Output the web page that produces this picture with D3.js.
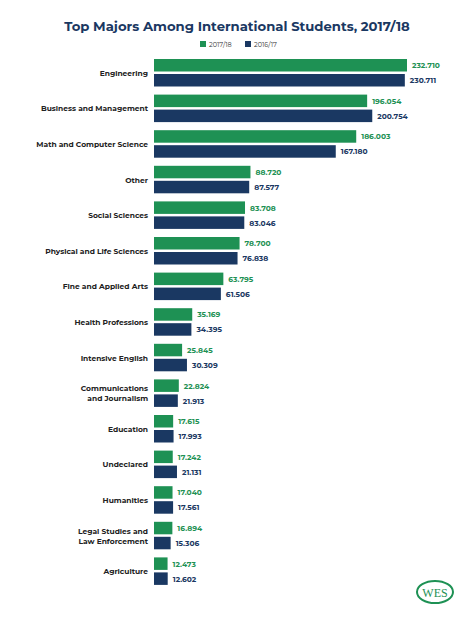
<!DOCTYPE html><html><head><meta charset="utf-8"><script src="https://cdn.jsdelivr.net/npm/d3@7"></script>
<style>body{margin:0;background:#fff}text{font-family:Montserrat,"Open Sans",sans-serif}</style></head><body><svg id="c" width="474" height="620"></svg>
<script>
const categories=["Engineering","Business and Management","Math and Computer Science","Other","Social Sciences","Physical and Life Sciences","Fine and Applied Arts","Health Professions","Intensive English","Communications\nand Journalism","Education","Undeclared","Humanities","Legal Studies and\nLaw Enforcement","Agriculture"];
const v1718=[232710,196054,186003,88720,83708,78700,63795,35169,25845,22824,17615,17242,17040,16894,12473];
const v1617=[230711,200754,167180,87577,83046,76838,61506,34395,30309,21913,17993,21131,17561,15306,12602];
const series=["2017/18","2016/17"];
const colors=["#1e9154","#1a3862"];
const svg=d3.select("#c");
svg.append("text").attr("x",237).attr("y",31).attr("text-anchor","middle").attr("font-size",13.2).attr("font-weight",700).attr("fill","#1a3862").text("Top Majors Among International Students, 2017/18");
const lg=svg.append("g");
[[200,0],[245,1]].forEach(([x,i])=>{lg.append("rect").attr("x",x).attr("y",41).attr("width",6).attr("height",6).attr("fill",colors[i]);lg.append("text").attr("x",x+9).attr("y",47).attr("font-size",6.5).attr("fill","#333").text(series[i]);});
const x=d3.scaleLinear().domain([0,232710]).range([154,407]);
const y=d3.scaleBand().domain(d3.range(categories.length)).range([55,589]);
const bh=12.5;
categories.forEach((c,i)=>{
  const g=svg.append("g");const y0=y(i)+4;
  [v1718[i],v1617[i]].forEach((v,k)=>{
    const yy=y0+k*(bh+2.5);
    g.append("rect").attr("x",x(0)).attr("y",yy).attr("width",x(v)-x(0)).attr("height",bh).attr("fill",colors[k]);
    g.append("text").attr("x",x(v)+5).attr("y",yy+bh/2+3).attr("font-size",7.5).attr("font-weight",700).attr("fill",colors[k]).text(d3.format(",")(v).replace(",","."));
  });
  const lines=c.split("\n");const cy=y0+bh+1.25;
  lines.forEach((l,j)=>g.append("text").attr("x",148).attr("y",cy+3+(j-(lines.length-1)/2)*10).attr("text-anchor","end").attr("font-size",7.5).attr("font-weight",700).attr("fill","#222").text(l));
});
const logo=svg.append("g").attr("transform","translate(435,592)");
logo.append("ellipse").attr("rx",18).attr("ry",11).attr("fill","none").attr("stroke","#1e9154").attr("stroke-width",2);
logo.append("text").attr("y",4.5).attr("text-anchor","middle").attr("font-size",12).attr("fill","#1e9154").style("font-family","Liberation Serif,serif").text("WES");
</script></body></html>
